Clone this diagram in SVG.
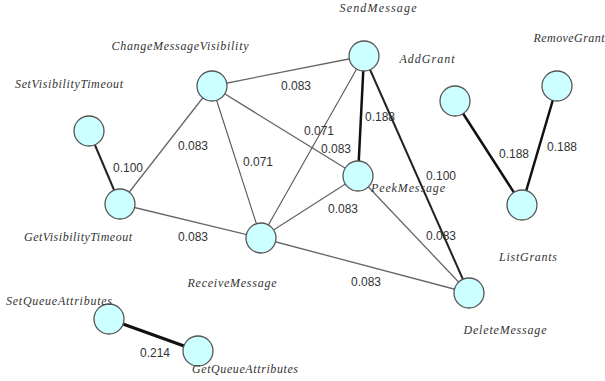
<svg xmlns="http://www.w3.org/2000/svg" width="605" height="381" viewBox="0 0 605 381">
<style>
.n{fill:#ccffff;stroke:#555;stroke-width:1.3}
.nl{font-family:"Liberation Serif",serif;font-style:italic;font-size:12px;fill:#333;text-anchor:middle}
.el{font-family:"Liberation Sans",Arial,sans-serif;font-size:12px;fill:#333;text-anchor:middle}
.e1{stroke:#666;stroke-width:1.3;fill:none}
.e0{stroke:#555;stroke-width:1.1;fill:none}
.e2{stroke:#222;stroke-width:2;fill:none}
.e3{stroke:#111;stroke-width:2.5;fill:none}
.e4{stroke:#111;stroke-width:3;fill:none}
</style>
<rect width="605" height="381" fill="#fff"/>
<g id="connectors">
<line class="e1" x1="212" y1="86" x2="364" y2="56"/>
<line class="e1" x1="212" y1="86" x2="120" y2="204"/>
<line class="e0" x1="212" y1="86" x2="261" y2="238"/>
<line class="e1" x1="212" y1="86" x2="358" y2="176"/>
<line class="e0" x1="364" y1="56" x2="261" y2="238"/>
<line class="e3" x1="364" y1="56" x2="358" y2="176"/>
<line class="e2" x1="364" y1="56" x2="469" y2="293"/>
<line class="e1" x1="358" y1="176" x2="261" y2="238"/>
<line class="e1" x1="358" y1="176" x2="469" y2="293"/>
<line class="e1" x1="261" y1="238" x2="469" y2="293"/>
<line class="e1" x1="120" y1="204" x2="261" y2="238"/>
<line class="e2" x1="89" y1="131" x2="120" y2="204"/>
<line class="e3" x1="455" y1="101" x2="522" y2="205"/>
<line class="e3" x1="557" y1="86" x2="522" y2="205"/>
<line class="e4" x1="109" y1="319" x2="198" y2="351"/>
<text class="el" x="296" y="90">0.083</text>
<text class="el" x="193" y="150">0.083</text>
<text class="el" x="258" y="166">0.071</text>
<text class="el" x="128" y="172">0.100</text>
<text class="el" x="319" y="135">0.071</text>
<text class="el" x="336" y="153">0.083</text>
<text class="el" x="380" y="121">0.188</text>
<text class="el" x="441" y="180">0.100</text>
<text class="el" x="343" y="213">0.083</text>
<text class="el" x="441" y="240">0.083</text>
<text class="el" x="366" y="286">0.083</text>
<text class="el" x="193" y="241">0.083</text>
<text class="el" x="514" y="158">0.188</text>
<text class="el" x="562" y="151">0.188</text>
<text class="el" x="155" y="357">0.214</text>
</g>
<g id="SendMessage"><circle class="n" cx="364" cy="56" r="15"/><text class="nl" x="378" y="12" textLength="77">SendMessage</text></g>
<g id="ChangeMessageVisibility"><circle class="n" cx="212" cy="86" r="15"/><text class="nl" x="180" y="50" textLength="137">ChangeMessageVisibility</text></g>
<g id="SetVisibilityTimeout"><circle class="n" cx="89" cy="131" r="15"/><text class="nl" x="69" y="88" textLength="108">SetVisibilityTimeout</text></g>
<g id="GetVisibilityTimeout"><circle class="n" cx="120" cy="204" r="15"/><text class="nl" x="78" y="241" textLength="108">GetVisibilityTimeout</text></g>
<g id="ReceiveMessage"><circle class="n" cx="261" cy="238" r="15"/><text class="nl" x="232" y="287" textLength="89">ReceiveMessage</text></g>
<g id="PeekMessage"><circle class="n" cx="358" cy="176" r="15"/><text class="nl" x="408" y="192" textLength="74">PeekMessage</text></g>
<g id="AddGrant"><circle class="n" cx="455" cy="101" r="15"/><text class="nl" x="427" y="63" textLength="55">AddGrant</text></g>
<g id="RemoveGrant"><circle class="n" cx="557" cy="86" r="15"/><text class="nl" x="569" y="42" textLength="71">RemoveGrant</text></g>
<g id="ListGrants"><circle class="n" cx="522" cy="205" r="15"/><text class="nl" x="528" y="261" textLength="58">ListGrants</text></g>
<g id="DeleteMessage"><circle class="n" cx="469" cy="293" r="15"/><text class="nl" x="505" y="334" textLength="83">DeleteMessage</text></g>
<g id="SetQueueAttributes"><circle class="n" cx="109" cy="319" r="15"/><text class="nl" x="59" y="305" textLength="106">SetQueueAttributes</text></g>
<g id="GetQueueAttributes"><circle class="n" cx="198" cy="351" r="15"/><text class="nl" x="245" y="373" textLength="106">GetQueueAttributes</text></g>
</svg>
